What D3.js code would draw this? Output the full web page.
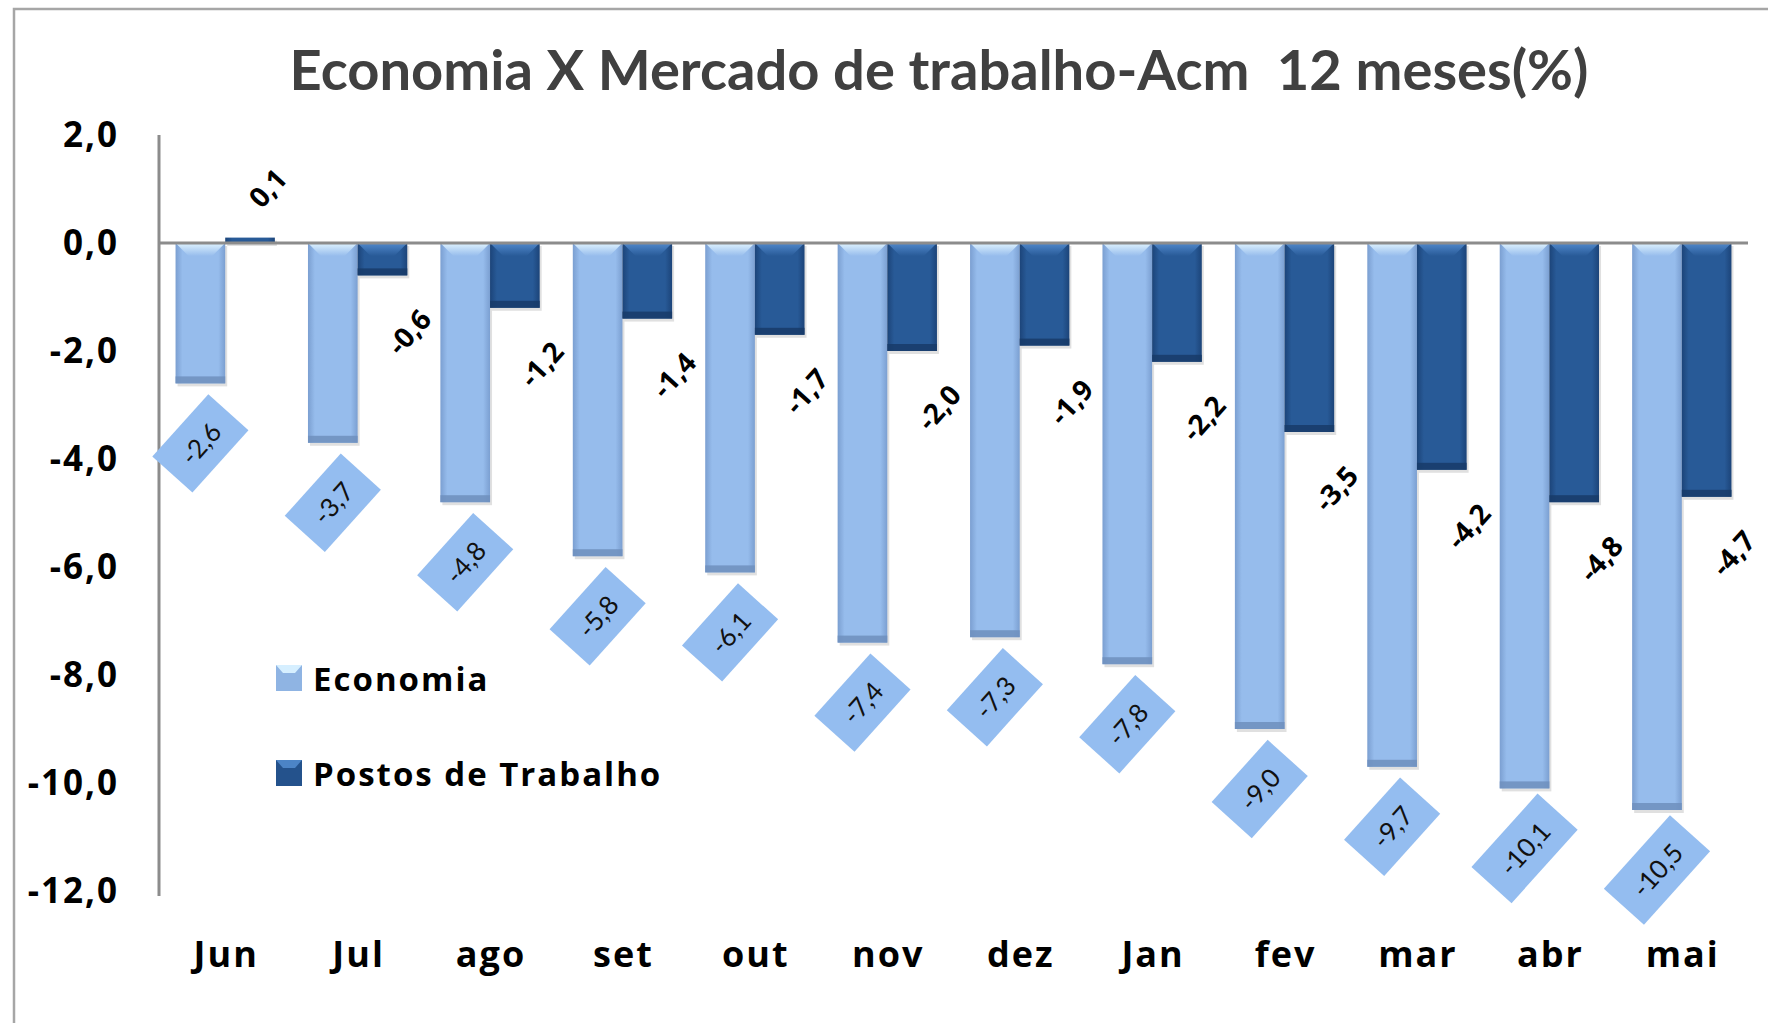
<!DOCTYPE html>
<html>
<head>
<meta charset="utf-8">
<script src="https://cdn.jsdelivr.net/npm/d3@7.9.0/dist/d3.min.js"></script>
<style>
  body { margin: 0; background: #fff; }
  svg { display: block; font-family: Lato, "Open Sans", sans-serif; }
</style>
</head>
<body>
<svg width="1768" height="1023"></svg>
<script>
// data
const months = ['Jun', 'Jul', 'ago', 'set', 'out', 'nov', 'dez', 'Jan', 'fev', 'mar', 'abr', 'mai'];
const economia = [-2.6, -3.7, -4.8, -5.8, -6.1, -7.4, -7.3, -7.8, -9.0, -9.7, -10.1, -10.5];
const postos = [0.1, -0.6, -1.2, -1.4, -1.7, -2.0, -1.9, -2.2, -3.5, -4.2, -4.8, -4.7];
const yTicks = [2, 0, -2, -4, -6, -8, -10, -12];
const seriesNames = ['Economia', 'Postos de Trabalho'];
const title = 'Economia X Mercado de trabalho-Acm  12 meses(%)';

const fmt = v => d3.format('.1f')(v).replace('.', ',').replace('\u2212', '-');
const wide = '"Open Sans", Lato, sans-serif';

const svg = d3.select('svg');

// outer chart border (right/bottom fall off the picture)
svg.append('path')
  .attr('d', 'M14,1023 V9 H1768')
  .attr('fill', 'none')
  .attr('stroke', '#a6a6a6')
  .attr('stroke-width', 2.5);

const x = d3.scaleBand().domain(months).range([159, 1748]).paddingInner(0.25).paddingOuter(0.125);
const y = d3.scaleLinear().domain([-12, 2]).range([891, 135]);
const bw = x.bandwidth() / 2;

// gradients for the bevelled bars
const defs = svg.append('defs');
function hGrad(id, edge, mid) {
  const g = defs.append('linearGradient').attr('id', id).attr('x1', 0).attr('x2', 1).attr('y1', 0).attr('y2', 0);
  [[0, edge], [0.14, mid], [0.5, mid], [0.86, mid], [1, edge]].forEach(([o, c]) =>
    g.append('stop').attr('offset', o).attr('stop-color', c));
}
function vGrad(id, top, bottom) {
  const g = defs.append('linearGradient').attr('id', id).attr('x1', 0).attr('x2', 0).attr('y1', 0).attr('y2', 1);
  g.append('stop').attr('offset', 0).attr('stop-color', top);
  g.append('stop').attr('offset', 1).attr('stop-color', bottom);
}
hGrad('ecoBody', '#7b9fd1', '#96bcec');
hGrad('posBody', '#1c4479', '#285a97');
vGrad('ecoTop', '#dff3ff', '#96bcec');
vGrad('posTop', '#5189cc', '#285a97');

const styles = [
  { body: 'url(#ecoBody)', top: 'url(#ecoTop)', bottom: '#6f8fbd', swatch: '#8fb4e3' },
  { body: 'url(#posBody)', top: 'url(#posTop)', bottom: '#183b69', swatch: '#24528c' }
];

// y axis
const yAxis = svg.append('g')
  .attr('transform', 'translate(159,0)')
  .call(d3.axisLeft(y).tickValues(yTicks).tickSize(0).tickSizeOuter(0).tickPadding(40).tickFormat(fmt));
yAxis.select('.domain').attr('stroke', '#8c8c8c').attr('stroke-width', 3).attr('d', `M0,${y(2)}V${y(-12) + 5}`);
yAxis.selectAll('text')
  .attr('font-size', 35).attr('font-weight', 700).attr('fill', '#000')
  .attr('letter-spacing', 2)
  .attr('font-family', wide);

// bars
const barsG = svg.append('g');
[economia, postos].forEach((vals, s) => {
  vals.forEach((v, i) => {
    const bx = x(months[i]) + s * bw;
    const y0 = y(Math.max(0, v));
    const h = Math.abs(y(v) - y(0));
    const g = barsG.append('g');
    g.append('rect').attr('x', bx + 2).attr('y', y0 + 3).attr('width', bw).attr('height', h)
      .attr('fill', '#000').attr('opacity', 0.12);
    g.append('rect').attr('x', bx).attr('y', y0).attr('width', bw).attr('height', h)
      .attr('fill', styles[s].body);
    if (h > 20) {
      const d = 13;
      g.append('path')
        .attr('d', `M${bx},${y0}H${bx + bw}L${bx + bw - d},${y0 + d}H${bx + d}Z`)
        .attr('fill', styles[s].top);
      g.append('rect').attr('x', bx).attr('y', y0 + h - 7).attr('width', bw).attr('height', 7)
        .attr('fill', styles[s].bottom).attr('opacity', 0.85);
    }
  });
});

// zero line
svg.append('line')
  .attr('x1', 159).attr('x2', 1748).attr('y1', y(0)).attr('y2', y(0))
  .attr('stroke', '#8c8c8c').attr('stroke-width', 3);

// category labels
svg.append('g').selectAll('text').data(months).join('text')
  .attr('x', d => x(d) + x.bandwidth() / 2 + 1)
  .attr('y', 967)
  .attr('text-anchor', 'middle')
  .attr('font-family', wide)
  .attr('font-size', 36).attr('font-weight', 700).attr('fill', '#000')
  .attr('letter-spacing', 2)
  .text(d => d);

// economia value labels in light blue boxes
economia.forEach((v, i) => {
  const cx = x(months[i]) + bw / 2;
  const g = svg.append('g').attr('transform', `translate(${cx},${y(v) + 60}) rotate(-48)`);
  const rect = g.append('rect').attr('fill', '#94bdf0');
  const t = g.append('text')
    .attr('text-anchor', 'middle').attr('dominant-baseline', 'central')
    .attr('font-size', 26).attr('fill', '#111')
    .text(fmt(v));
  const w = t.node().getComputedTextLength() + 38;
  rect.attr('x', -w / 2).attr('y', -27).attr('width', w).attr('height', 54);
});

// postos value labels, rotated black text
postos.forEach((v, i) => {
  const cx = x(months[i]) + bw * 1.5;
  const ty = v >= 0 ? y(v) - 50 : y(v) + 56;
  const tx = v >= 0 ? cx + 17 : cx + 26;
  svg.append('text')
    .attr('transform', `translate(${tx},${ty}) rotate(-48)`)
    .attr('text-anchor', 'middle').attr('dominant-baseline', 'central')
    .attr('font-family', wide)
    .attr('font-size', 28).attr('font-weight', 700).attr('fill', '#000')
    .text(fmt(v));
});

// legend
const legend = svg.append('g');
seriesNames.forEach((name, s) => {
  const ly = 678 + s * 95;
  legend.append('rect').attr('x', 276).attr('y', ly - 13).attr('width', 26).attr('height', 26)
    .attr('fill', styles[s].swatch);
  legend.append('path')
    .attr('d', `M276,${ly - 13}H302L295,${ly - 5}H283Z`)
    .attr('fill', s === 0 ? '#d6efff' : '#4c84c6');
  legend.append('text').attr('x', 313).attr('y', ly).attr('dominant-baseline', 'central')
    .attr('font-family', wide)
    .attr('font-size', 33).attr('font-weight', 700).attr('fill', '#000')
    .attr('letter-spacing', 2)
    .text(name);
});

// title, fitted to the width it takes in the original
const tt = svg.append('text')
  .attr('x', 939).attr('y', 90)
  .attr('text-anchor', 'middle')
  .attr('font-size', 50).attr('font-weight', 700).attr('fill', '#404040')
  .style('white-space', 'pre')
  .text(title);
const tl = tt.node().getComputedTextLength();
tt.attr('font-size', 50 * 1299 / tl);
</script>
</body>
</html>
